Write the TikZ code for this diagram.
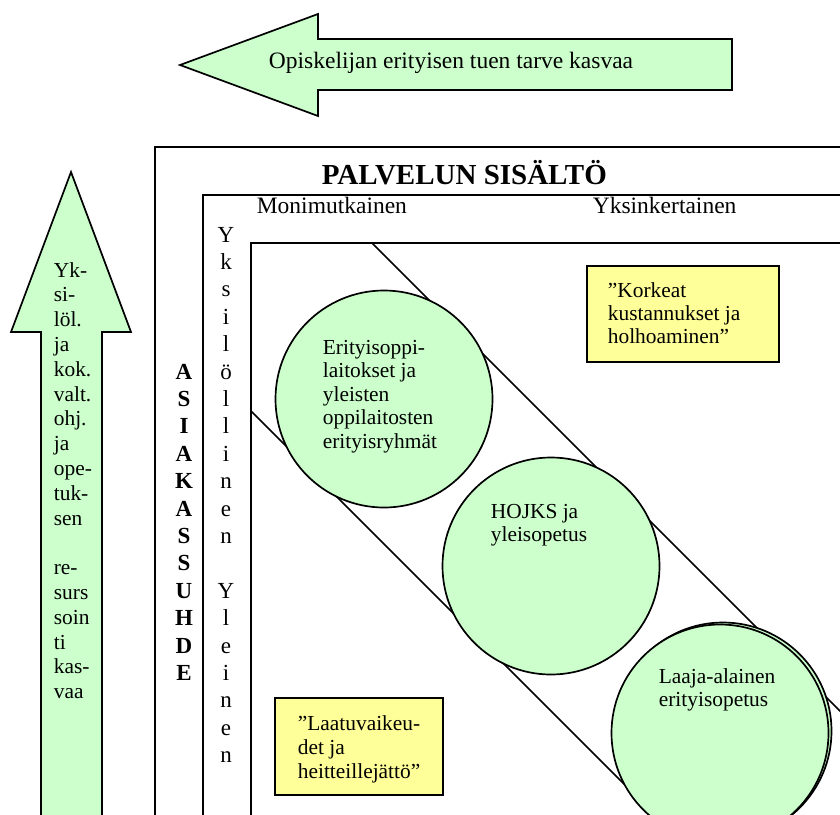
\documentclass[tikz,border=0pt]{standalone}
\usepackage{fontspec}
\setmainfont{Liberation Serif}
\definecolor{lgreen}{HTML}{CCFFCC}
\definecolor{lyellow}{HTML}{FFFF99}
\begin{document}
\begin{tikzpicture}[x=0.5pt,y=-0.5pt,line width=0.85pt,
  greenshape/.style={draw=black,fill=lgreen,line join=miter},
  bubble/.style={circle,draw=black,fill=lgreen,minimum size=108.5pt,inner sep=0pt},
  notebox/.style={rectangle,draw=black,fill=lyellow,inner sep=0pt,outer sep=0pt,anchor=north west},
  bodytext/.style={font=\fontsize{10.7}{11.8}\selectfont,inner sep=0pt,anchor=base west},
  headtext/.style={font=\fontsize{11.75}{13}\selectfont,inner sep=0pt},
  vletter/.style={font=\fontsize{11.5}{13}\selectfont,inner sep=0pt,anchor=base},
  vbold/.style={font=\fontsize{11.5}{13}\selectfont\bfseries,inner sep=0pt,anchor=base},
  titletext/.style={font=\fontsize{14.5}{16}\selectfont\bfseries,inner sep=0pt,anchor=base west}]
\useasboundingbox (0,0) rectangle (840,814);
\clip (0,0) rectangle (840,814);

% top arrow
\draw[greenshape] (180,65) -- (318,14) -- (318,39) -- (732,39) -- (732,90) -- (318,90) -- (318,116) -- cycle;
\node[headtext] (toptext) at (451,63) {Opiskelijan erityisen tuen tarve kasvaa};

% left arrow
\draw[greenshape] (71,172) -- (131,332) -- (102,332) -- (102,840) -- (41,840) -- (41,332) -- (11,332) -- cycle;
\foreach \t [count=\i] in {Yk-,si-,löl.,ja,kok.,valt.,ohj.,ja,ope-,tuk-,sen}
  \node[bodytext] (la\i) at (53,{277+24.8*(\i-1)}) {\t};
\foreach \t [count=\i from 13] in {re-,surs,soin,ti,kas-,vaa}
  \node[bodytext] (la\i) at (53,{277+24.8*(\i-1)}) {\t};

% frames
\draw (155,840) -- (155,147) -- (850,147);
\draw (203,840) -- (203,195) -- (850,195);
\draw (251,840) -- (251,243) -- (850,243);

\node[titletext] (title) at (321,184) {PALVELUN SISÄLTÖ};
\node[headtext,anchor=base west] (mon) at (256,213) {Monimutkainen};
\node[headtext,anchor=base west] (yks) at (592,213) {Yksinkertainen};

% vertical labels
\foreach \ch [count=\i] in {Y,k,s,i,l,ö,l,l,i,n,e,n}
  \node[vletter] (yv\i) at (226,{242+27.4*(\i-1)}) {\ch};
\foreach \ch [count=\i from 14] in {Y,l,e,i,n,e,n}
  \node[vletter] (yv\i) at (226,{242+27.4*(\i-1)}) {\ch};
\foreach \ch [count=\i from 6] in {A,S,I,A,K,A,S,S,U,H,D,E}
  \node[vbold] (as\i) at (184,{242+27.4*(\i-1)}) {\ch};

% diagonal band
\coordinate (u1) at (372,243);
\coordinate (u2) at (862,733);
\coordinate (w1) at (251,411);
\coordinate (w2) at (691,851);
\draw (u1) -- (u2);
\draw (w1) -- (w2);

% circles
\node[bubble] (c3b) at (723,731) {};
\node[bubble] (c1) at (384,399) {};
\node[bubble] (c2) at (551,566) {};
\node[bubble] (c3) at (720,733) {};

\foreach \t [count=\i] in {Erityisoppi-,laitokset ja,yleisten,oppilaitosten,erityisryhmät}
  \node[bodytext] (c1t\i) at (322,{354+23.6*(\i-1)}) {\t};
\foreach \t [count=\i] in {HOJKS ja,yleisopetus}
  \node[bodytext] (c2t\i) at (490,{518+23.6*(\i-1)}) {\t};
\foreach \t [count=\i] in {Laaja-alainen,erityisopetus}
  \node[bodytext] (c3t\i) at (658,{683+23.6*(\i-1)}) {\t};

% yellow notes
\node[notebox,minimum width=96pt,minimum height=48pt] (n1) at (587,266) {};
\foreach \t [count=\i] in {”Korkeat,kustannukset ja,holhoaminen”}
  \node[bodytext] (n1t\i) at (607,{297+23*(\i-1)}) {\t};
\node[notebox,minimum width=84pt,minimum height=48.5pt] (n2) at (275,698) {};
\foreach \t [count=\i] in {”Laatuvaikeu-,det ja,heitteillejättö”}
  \node[bodytext] (n2t\i) at (297,{730+24*(\i-1)}) {\t};
\end{tikzpicture}
\end{document}
